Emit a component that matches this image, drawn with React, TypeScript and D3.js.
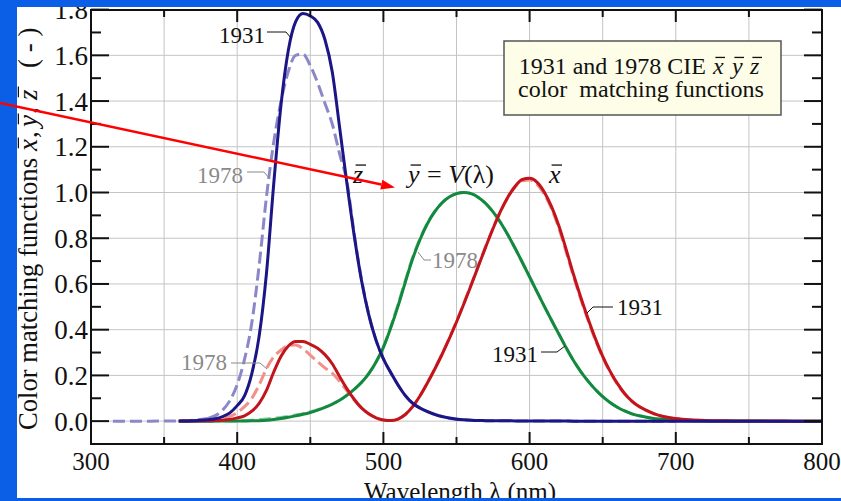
import React from 'react';
import * as d3 from 'd3';

// CIE 1931 2-degree colour matching functions (solid curves)
const WAVELENGTH_1931 = [
  360, 370, 380, 385, 390, 395, 400, 405, 410, 415, 420, 425, 430, 435, 440, 445, 450, 455, 460, 465,
  470, 475, 480, 485, 490, 495, 500, 505, 510, 515, 520, 525, 530, 535, 540, 545, 550, 555, 560, 565,
  570, 575, 580, 585, 590, 595, 600, 605, 610, 615, 620, 625, 630, 635, 640, 645, 650, 655, 660, 665,
  670, 675, 680, 685, 690, 695, 700, 710, 720, 730, 740, 750, 760, 770, 780, 790, 800,
];
const XBAR_1931 = [
  0.00013, 0.000415, 0.001368, 0.002236, 0.004243, 0.00765, 0.01431, 0.02319, 0.04351, 0.07763, 0.13438, 0.21477, 0.2839, 0.3285, 0.34828, 0.34806, 0.3362, 0.3187, 0.2908, 0.2511,
  0.19536, 0.1421, 0.09564, 0.05795, 0.03201, 0.0147, 0.0049, 0.0024, 0.0093, 0.0291, 0.06327, 0.1096, 0.1655, 0.22575, 0.2904, 0.3597, 0.43345, 0.51205, 0.5945, 0.6784,
  0.7621, 0.8425, 0.9163, 0.9786, 1.0263, 1.0567, 1.0622, 1.0456, 1.0026, 0.9384, 0.85445, 0.7514, 0.6424, 0.5419, 0.4479, 0.3608, 0.2835, 0.2187, 0.1649, 0.1212,
  0.0874, 0.0636, 0.04677, 0.0329, 0.0227, 0.01584, 0.011359, 0.00579, 0.002899, 0.00144, 0.00069, 0.000332, 0.000166, 0.000083, 0.000042, 0.000021, 0.00001,
];
const YBAR_1931 = [
  0.000004, 0.000012, 0.000039, 0.000064, 0.00012, 0.000217, 0.000396, 0.00064, 0.00121, 0.00218, 0.004, 0.0073, 0.0116, 0.01684, 0.023, 0.0298, 0.038, 0.048, 0.06, 0.0739,
  0.09098, 0.1126, 0.13902, 0.1693, 0.20802, 0.2586, 0.323, 0.4073, 0.503, 0.6082, 0.71, 0.7932, 0.862, 0.91485, 0.954, 0.9803, 0.99495, 1.0, 0.995, 0.9786,
  0.952, 0.9154, 0.87, 0.8163, 0.757, 0.6949, 0.631, 0.5668, 0.503, 0.4412, 0.381, 0.321, 0.265, 0.217, 0.175, 0.1382, 0.107, 0.0816, 0.061, 0.04458,
  0.032, 0.0232, 0.017, 0.01192, 0.00821, 0.005723, 0.004102, 0.002091, 0.001047, 0.00052, 0.000249, 0.00012, 0.00006, 0.00003, 0.000015, 0.0000075, 0.0000037,
];
const ZBAR_1931 = [
  0.000606, 0.001946, 0.00645, 0.01055, 0.02005, 0.03621, 0.06785, 0.1102, 0.2074, 0.3713, 0.6456, 1.03905, 1.3856, 1.62296, 1.74706, 1.7826, 1.77211, 1.7441, 1.6692, 1.5281,
  1.28764, 1.0419, 0.81295, 0.6162, 0.46518, 0.3533, 0.272, 0.2123, 0.1582, 0.1117, 0.07825, 0.05725, 0.04216, 0.02984, 0.0203, 0.0134, 0.00875, 0.00575, 0.0039, 0.00275,
  0.0021, 0.0018, 0.00165, 0.0014, 0.0011, 0.001, 0.0008, 0.0006, 0.00034, 0.00024, 0.00019, 0.0001, 0.00005, 0.00003, 0.00002, 0.00001, 0, 0, 0, 0,
  0, 0, 0, 0, 0, 0, 0, 0, 0, 0, 0, 0, 0, 0, 0, 0, 0,
];

// CIE 1978 modified functions (dashed curves)
const WAVELENGTH_1978 = [
  380, 385, 390, 395, 400, 405, 410, 415, 420, 425, 430, 435, 440, 445, 450, 455, 460, 465, 470, 475,
  480, 485, 490, 495, 500, 505, 510, 515, 520, 525, 530, 535, 540, 545, 550, 555, 560, 565, 570, 575,
  580, 585, 590, 595, 600, 605, 610, 615, 620, 625, 630, 635, 640, 645, 650, 655, 660, 665, 670, 675,
  680, 685, 690, 695, 700,
];
const XBAR_1978 = [
  0.00269, 0.00531, 0.01078, 0.02079, 0.03798, 0.06316, 0.09994, 0.15824, 0.22948, 0.28108, 0.31095, 0.33072, 0.33336, 0.31672, 0.28882, 0.25969, 0.23276, 0.20999, 0.17476, 0.13287,
  0.09194, 0.05699, 0.03173, 0.01461, 0.00485, 0.00232, 0.00929, 0.02928, 0.06379, 0.11081, 0.16692, 0.22768, 0.29269, 0.36225, 0.43635, 0.51513, 0.59748, 0.68121, 0.76425, 0.84394,
  0.91635, 0.97703, 1.023, 1.0513, 1.055, 1.0362, 0.99239, 0.92861, 0.84346, 0.73983, 0.63289, 0.53351, 0.44062, 0.35453, 0.27862, 0.21485, 0.16161, 0.1182, 0.08575, 0.06308,
  0.04583, 0.03206, 0.02219, 0.01561, 0.0111,
];
const YBAR_1978 = [
  0.0001, 0.0002, 0.0004, 0.0008, 0.0014, 0.0024, 0.004, 0.0062, 0.009, 0.0125, 0.016, 0.021, 0.027, 0.033, 0.041, 0.05, 0.061, 0.0745, 0.0915, 0.113,
  0.1395, 0.17, 0.209, 0.26, 0.326, 0.413, 0.51, 0.615, 0.716, 0.798, 0.865, 0.916, 0.954, 0.9803, 0.99495, 1.0, 0.995, 0.9786, 0.952, 0.9154,
  0.87, 0.8163, 0.757, 0.6949, 0.631, 0.5668, 0.503, 0.4412, 0.381, 0.321, 0.265, 0.217, 0.175, 0.1382, 0.107, 0.0816, 0.061, 0.04458, 0.032, 0.0232,
  0.017, 0.01192, 0.00821, 0.005723, 0.004102,
];
const ZBAR_1978 = [
  0.012, 0.024, 0.048, 0.09, 0.16, 0.27, 0.43, 0.68, 0.98, 1.22, 1.4, 1.53, 1.6, 1.605, 1.555, 1.48, 1.39, 1.3, 1.17, 1.05,
  0.82, 0.62, 0.466, 0.353, 0.272, 0.212, 0.158, 0.112, 0.078, 0.057, 0.042, 0.03, 0.02, 0.013, 0.009, 0.006, 0.004, 0.003, 0.002, 0.002,
  0.0016, 0.0014, 0.0011, 0.001, 0.0008, 0.0006, 0.0003, 0.0002, 0.0002, 0.0001, 0, 0, 0, 0, 0, 0, 0, 0, 0, 0,
  0, 0, 0, 0, 0,
];
// dashed 1978 z-bar lead-in, flat at zero from ~315 nm
const ZBAR_1978_LEAD_WL = [315, 340, 360, 370, 380];
const ZBAR_1978_LEAD = [0, 0, 0.001, 0.004, 0.012];

const X_TICKS = [300, 400, 500, 600, 700, 800];
const Y_TICKS = [0, 0.2, 0.4, 0.6, 0.8, 1.0, 1.2, 1.4, 1.6, 1.8];

const FONT = "'Liberation Serif', 'Times New Roman', serif";
const C = {
  zSolid: '#1b1586',
  zDash: '#8b87c9',
  xSolid: '#c2141c',
  xDash: '#f2908c',
  ySolid: '#13893f',
  yDash: '#86cb98',
  grid: '#c4c4c4',
  gray: '#8a8a8a',
  slide: '#0b5fe6',
};

// italic letter with an overbar (x̄, ȳ, z̄)
function Bar({ x, y, ch, size, color = '#111' }: { x: number; y: number; ch: string; size: number; color?: string }) {
  return (
    <g>
      <text x={x} y={y} fontSize={size} fontStyle="italic" fill={color} fontFamily={FONT}>{ch}</text>
      <line x1={x + size * 0.1} x2={x + size * 0.5} y1={y - size * 0.69} y2={y - size * 0.69} stroke={color} strokeWidth={1.3} />
    </g>
  );
}

export default function App() {
  const x = d3.scaleLinear().domain([300, 800]).range([91, 822]);
  const y = d3.scaleLinear().domain([-0.1, 1.8]).range([444, 9.6]);

  const line = (wl: number[], v: number[]) =>
    d3.line<number>().x((_, i) => x(wl[i])).y((d) => y(d)).curve(d3.curveMonotoneX)(v) || '';

  const xGrid = d3.range(350, 800, 50);
  const xMinor = d3.range(350, 800, 100);
  const yMinor = d3.range(0, 18).map((i) => i * 0.2 + 0.1);
  const yGrid = d3.range(0, 9).map((i) => i * 0.2);

  const [x0, x1] = x.range();
  const [yb, yt] = [444, 10];

  // red pointer arrow drawn over the slide
  const tip = [395, 187.5];
  const start = [0, 103];
  const ang = Math.atan2(tip[1] - start[1], tip[0] - start[0]);
  const hl = 14, hw = 5;
  const bx = tip[0] - hl * Math.cos(ang), by = tip[1] - hl * Math.sin(ang);
  const head = `${tip[0]},${tip[1]} ${bx + hw * Math.sin(ang)},${by - hw * Math.cos(ang)} ${bx - hw * Math.sin(ang)},${by + hw * Math.cos(ang)}`;

  return (
    <svg width={841} height={501} style={{ position: 'absolute', left: 0, top: 0, display: 'block' }} fontFamily={FONT}>
      <rect x={0} y={0} width={841} height={501} fill={C.slide} />
      <rect x={17} y={7} width={824} height={491} fill="#ffffff" />

      {/* grid */}
      {xGrid.map((g) => (
        <line key={'gx' + g} x1={x(g)} x2={x(g)} y1={yt} y2={yb} stroke={C.grid} strokeWidth={1} />
      ))}
      {yGrid.map((g) => (
        <line key={'gy' + g} x1={x0} x2={x1} y1={y(g)} y2={y(g)} stroke={C.grid} strokeWidth={1} />
      ))}

      {/* 1978 dashed curves */}
      <g fill="none" strokeWidth={3} strokeDasharray="12,5">
        <path d={line(WAVELENGTH_1978, YBAR_1978)} stroke={C.yDash} />
        <path d={line(WAVELENGTH_1978, XBAR_1978)} stroke={C.xDash} />
        <path d={line(ZBAR_1978_LEAD_WL, ZBAR_1978_LEAD)} stroke={C.zDash} />
        <path d={line(WAVELENGTH_1978, ZBAR_1978)} stroke={C.zDash} />
      </g>

      {/* 1931 solid curves */}
      <g fill="none" strokeWidth={3} strokeLinejoin="round">
        <path d={line(WAVELENGTH_1931, YBAR_1931)} stroke={C.ySolid} />
        <path d={line(WAVELENGTH_1931, XBAR_1931)} stroke={C.xSolid} />
        <path d={line(WAVELENGTH_1931, ZBAR_1931)} stroke={C.zSolid} />
      </g>

      {/* frame and ticks */}
      <rect x={x0} y={yt} width={x1 - x0} height={yb - yt} fill="none" stroke="#111" strokeWidth={2} />
      {Y_TICKS.map((t) => (
        <g key={'yt' + t}>
          <line x1={x0} x2={x0 + 18} y1={y(t)} y2={y(t)} stroke="#111" strokeWidth={2} />
          <line x1={x1 - 18} x2={x1} y1={y(t)} y2={y(t)} stroke="#111" strokeWidth={2} />
        </g>
      ))}
      {yMinor.map((t) => (
        <g key={'ym' + t}>
          <line x1={x0} x2={x0 + 10} y1={y(t)} y2={y(t)} stroke="#111" strokeWidth={2} />
          <line x1={x1 - 10} x2={x1} y1={y(t)} y2={y(t)} stroke="#111" strokeWidth={2} />
        </g>
      ))}
      {X_TICKS.map((t) => (
        <g key={'xt' + t}>
          <line x1={x(t)} x2={x(t)} y1={yb} y2={yb - 12} stroke="#111" strokeWidth={2} />
          <line x1={x(t)} x2={x(t)} y1={yt} y2={yt + 12} stroke="#111" strokeWidth={2} />
        </g>
      ))}
      {xMinor.map((t) => (
        <g key={'xm' + t}>
          <line x1={x(t)} x2={x(t)} y1={yb} y2={yb - 7} stroke="#111" strokeWidth={2} />
          <line x1={x(t)} x2={x(t)} y1={yt} y2={yt + 7} stroke="#111" strokeWidth={2} />
        </g>
      ))}

      {/* tick labels */}
      {Y_TICKS.map((t) => (
        <text key={'yl' + t} x={88} y={y(t)} dy="0.35em" textAnchor="end" fontSize={27} fill="#111">
          {d3.format('.1f')(t)}
        </text>
      ))}
      {X_TICKS.map((t) => (
        <text key={'xl' + t} x={x(t)} y={470} textAnchor="middle" fontSize={25} fill="#111">
          {t}
        </text>
      ))}
      <text x={460} y={500} textAnchor="middle" fontSize={25} fill="#111">Wavelength λ (nm)</text>

      {/* y axis title */}
      <g transform="translate(37,0) rotate(-90)" fill="#111">
        <text x={-430} y={0} fontSize={27} textLength={272} lengthAdjust="spacingAndGlyphs">Color matching functions</text>
        <Bar x={-151} y={0} ch="x" size={27} />
        <text x={-138} y={0} fontSize={27}>,</text>
        <Bar x={-127} y={0} ch="y" size={27} />
        <text x={-114} y={0} fontSize={27}>,</text>
        <Bar x={-100} y={0} ch="z" size={27} />
        <text x={-68} y={0} fontSize={27} style={{ whiteSpace: 'pre' }}>( - )</text>
      </g>

      {/* legend box */}
      <rect x={504} y={41} width={277} height={74} fill="#fdfde8" stroke="#555" strokeWidth={1.5} />
      <text x={706} y={74} textAnchor="end" fontSize={24} fill="#111">1931 and 1978 CIE</text>
      <Bar x={713} y={74} ch="x" size={24} />
      <Bar x={732} y={74} ch="y" size={24} />
      <Bar x={750} y={74} ch="z" size={24} />
      <text x={641} y={97} textAnchor="middle" fontSize={24} fill="#111" style={{ whiteSpace: 'pre' }}>color  matching functions</text>

      {/* curve labels */}
      <Bar x={353} y={183} ch="z" size={26} />
      <Bar x={408} y={183} ch="y" size={26} />
      <text x={427} y={183} fontSize={26} fill="#111">
        {'= '}<tspan fontStyle="italic">V</tspan>(λ)
      </text>
      <Bar x={549} y={183} ch="x" size={26} />

      {/* year annotations */}
      <g fontSize={23}>
        <text x={265} y={43} textAnchor="end" fill="#111">1931</text>
        <path d="M267,32 H286 L291,38" fill="none" stroke="#111" strokeWidth={1} />
        <text x={243} y={183} textAnchor="end" fill={C.gray}>1978</text>
        <path d="M247,172 H264 L269,178" fill="none" stroke={C.gray} strokeWidth={1} />
        <text x={227} y={370} textAnchor="end" fill={C.gray}>1978</text>
        <path d="M231,363 H260 L267,369" fill="none" stroke={C.gray} strokeWidth={1} />
        <text x={432} y={268} fill={C.gray}>1978</text>
        <path d="M418,252 L424,260 H431" fill="none" stroke={C.gray} strokeWidth={1} />
        <text x={617} y={315} fill="#111">1931</text>
        <path d="M587,313 L593,307 H613" fill="none" stroke="#111" strokeWidth={1} />
        <text x={538} y={362} textAnchor="end" fill="#111">1931</text>
        <path d="M541,352 H557 L565,346" fill="none" stroke="#111" strokeWidth={1} />
      </g>

      {/* slide frame on top */}
      <rect x={0} y={0} width={841} height={7} fill={C.slide} />
      <rect x={0} y={0} width={17} height={501} fill={C.slide} />
      <rect x={0} y={498} width={841} height={3} fill={C.slide} />

      {/* red arrow */}
      <line x1={start[0]} y1={start[1]} x2={bx} y2={by} stroke="#ff0000" strokeWidth={2.5} />
      <polygon points={head} fill="#ff0000" />
    </svg>
  );
}
